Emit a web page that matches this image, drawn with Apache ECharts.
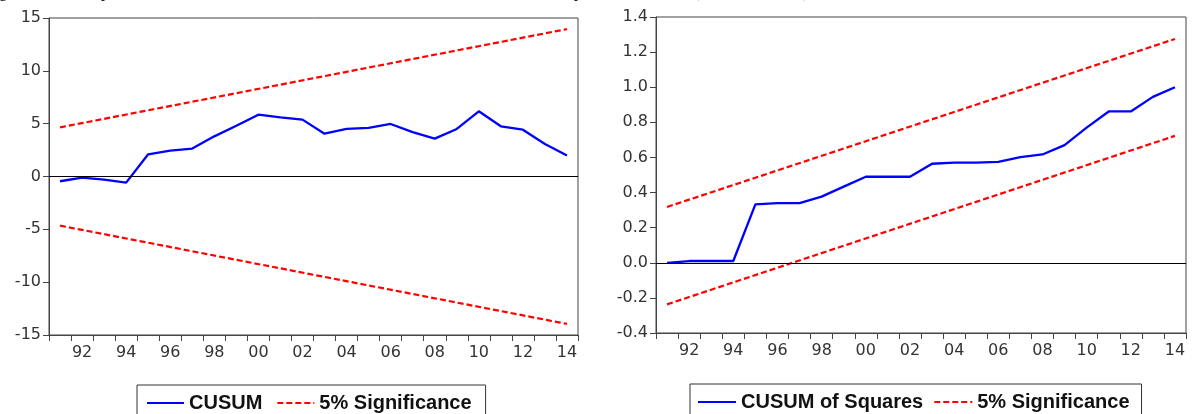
<!DOCTYPE html>
<html>
<head>
<meta charset="utf-8">
<script src="https://cdn.jsdelivr.net/npm/echarts@6/dist/echarts.min.js"></script>
<style>
html,body{margin:0;padding:0;background:#fff;}
#chart{width:1192px;height:414px;}
</style>
</head>
<body>
<div id="chart"></div>
<script>
const years = ['1991','1992','1993','1994','1995','1996','1997','1998','1999','2000','2001','2002',
               '2003','2004','2005','2006','2007','2008','2009','2010','2011','2012','2013','2014'];
const cusum = [-0.45, -0.1, -0.3, -0.58, 2.1, 2.45, 2.64, 3.8, 4.8, 5.85, 5.6, 5.38,
               4.05, 4.5, 4.6, 4.97, 4.2, 3.58, 4.5, 6.17, 4.75, 4.43, 3.08, 1.98];
const cusumUpper = [4.65, null, null, null, null, null, null, null, null, null, null, null,
                    null, null, null, null, null, null, null, null, null, null, null, 13.95];
const cusumLower = [-4.65, null, null, null, null, null, null, null, null, null, null, null,
                    null, null, null, null, null, null, null, null, null, null, null, -13.95];
const cusumSq = [0.0, 0.01, 0.01, 0.01, 0.333, 0.34, 0.34, 0.377, 0.434, 0.49, 0.49, 0.49,
                 0.564, 0.57, 0.57, 0.575, 0.602, 0.617, 0.67, 0.77, 0.862, 0.862, 0.945, 1.0];
const sqUpper = [0.318, null, null, null, null, null, null, null, null, null, null, null,
                 null, null, null, null, null, null, null, null, null, null, null, 1.275];
const sqLower = [-0.237, null, null, null, null, null, null, null, null, null, null, null,
                 null, null, null, null, null, null, null, null, null, null, null, 0.723];
const leftTicks = {min: -15, max: 15, interval: 5};
const rightTicks = {min: -0.4, max: 1.4, interval: 0.2};
const names = {cusum: 'CUSUM', cusumSq: 'CUSUM of Squares', sig: '5% Significance'};

const AX = '#444';
const LBL = '#333';
function xAxisFor(gi) {
  return {
    gridIndex: gi, type: 'category', data: years, boundaryGap: true,
    axisLine: {onZero: false, lineStyle: {color: AX, width: 1}},
    axisTick: {show: true, interval: 0, length: 6, lineStyle: {color: AX}},
    axisLabel: {interval: function (i) { return i % 2 === 1; }, formatter: v => v.slice(2),
      color: LBL, fontFamily: 'DejaVu Sans', fontSize: 16, margin: 10},
    splitLine: {show: false}
  };
}
function yAxisFor(gi, t, fmt) {
  return {
    gridIndex: gi, type: 'value', min: t.min, max: t.max, interval: t.interval,
    axisLine: {show: true, onZero: false, lineStyle: {color: AX, width: 1}},
    axisTick: {show: true, length: 6, lineStyle: {color: AX}},
    axisLabel: {color: LBL, fontFamily: 'DejaVu Sans', fontSize: 16, margin: 8, formatter: fmt},
    splitLine: {show: false}
  };
}
const blue = {color: '#0000ff', width: 2.3, type: 'solid'};
const red = {color: '#ff0000', width: 2.2, type: [6, 3]};
const zeroLine = {
  silent: true, symbol: 'none', label: {show: false},
  lineStyle: {color: '#000', width: 1.2, type: 'solid'},
  data: [{yAxis: 0}]
};
const legendText = {fontFamily: 'Liberation Sans', fontWeight: 'bold', fontSize: 20, color: '#111'};
const capFont = '16px "Liberation Serif"';

const option = {
  animation: false,
  backgroundColor: '#fff',
  grid: [
    {left: 49, right: 614, top: 18, bottom: 79, show: true, borderColor: AX, borderWidth: 1, backgroundColor: 'transparent'},
    {left: 656, right: 6, top: 17, bottom: 81, show: true, borderColor: AX, borderWidth: 1, backgroundColor: 'transparent'}
  ],
  xAxis: [xAxisFor(0), xAxisFor(1)],
  yAxis: [yAxisFor(0, leftTicks, v => String(v)), yAxisFor(1, rightTicks, v => v.toFixed(1))],
  legend: [
    {data: [names.cusum, names.sig], left: 137, top: 385, orient: 'horizontal',
     itemWidth: 37, itemHeight: 14, itemGap: 14, padding: [8, 14, 20, 9],
     itemStyle: {opacity: 0},
     borderColor: '#333', borderWidth: 1, textStyle: legendText, selectedMode: false},
    {data: [names.cusumSq, names.sig], left: 690, top: 384, orient: 'horizontal',
     itemWidth: 38, itemHeight: 14, itemGap: 10, padding: [8, 12, 20, 7],
     itemStyle: {opacity: 0},
     borderColor: '#333', borderWidth: 1, textStyle: legendText, selectedMode: false}
  ],
  graphic: [
    {type: 'text', silent: true, style: {text: 'Figure 6: The', x: -14, y: -7, font: capFont, fill: '#000', verticalAlign: 'middle'}},
    {type: 'text', silent: true, style: {text: 'plot of cumulative sum of recursive residuals', x: 101, y: -7, font: capFont, fill: '#000', verticalAlign: 'middle'}},
    {type: 'text', silent: true, style: {text: 'plot of the', x: 574, y: -7, font: capFont, fill: '#000', verticalAlign: 'middle'}},
    {type: 'text', silent: true, style: {text: '(CUSUMSQ test)', x: 694, y: -7, font: capFont, fill: '#000', verticalAlign: 'middle'}}
  ],
  series: [
    {name: names.cusum, type: 'line', xAxisIndex: 0, yAxisIndex: 0, data: cusum, symbol: 'none',
     lineStyle: blue, itemStyle: {color: '#0000ff'}, z: 3, markLine: zeroLine},
    {name: names.sig, type: 'line', xAxisIndex: 0, yAxisIndex: 0, data: cusumUpper, connectNulls: true,
     symbol: 'none', lineStyle: red, itemStyle: {color: '#ff0000'}, z: 2},
    {name: names.sig, type: 'line', xAxisIndex: 0, yAxisIndex: 0, data: cusumLower, connectNulls: true,
     symbol: 'none', lineStyle: red, itemStyle: {color: '#ff0000'}, z: 2},
    {name: names.cusumSq, type: 'line', xAxisIndex: 1, yAxisIndex: 1, data: cusumSq, symbol: 'none',
     lineStyle: blue, itemStyle: {color: '#0000ff'}, z: 3, markLine: zeroLine},
    {name: names.sig, type: 'line', xAxisIndex: 1, yAxisIndex: 1, data: sqUpper, connectNulls: true,
     symbol: 'none', lineStyle: red, itemStyle: {color: '#ff0000'}, z: 2},
    {name: names.sig, type: 'line', xAxisIndex: 1, yAxisIndex: 1, data: sqLower, connectNulls: true,
     symbol: 'none', lineStyle: red, itemStyle: {color: '#ff0000'}, z: 2}
  ]
};
const chart = echarts.init(document.getElementById('chart'), null, {renderer: 'canvas'});
chart.setOption(option);
</script>
</body>
</html>
